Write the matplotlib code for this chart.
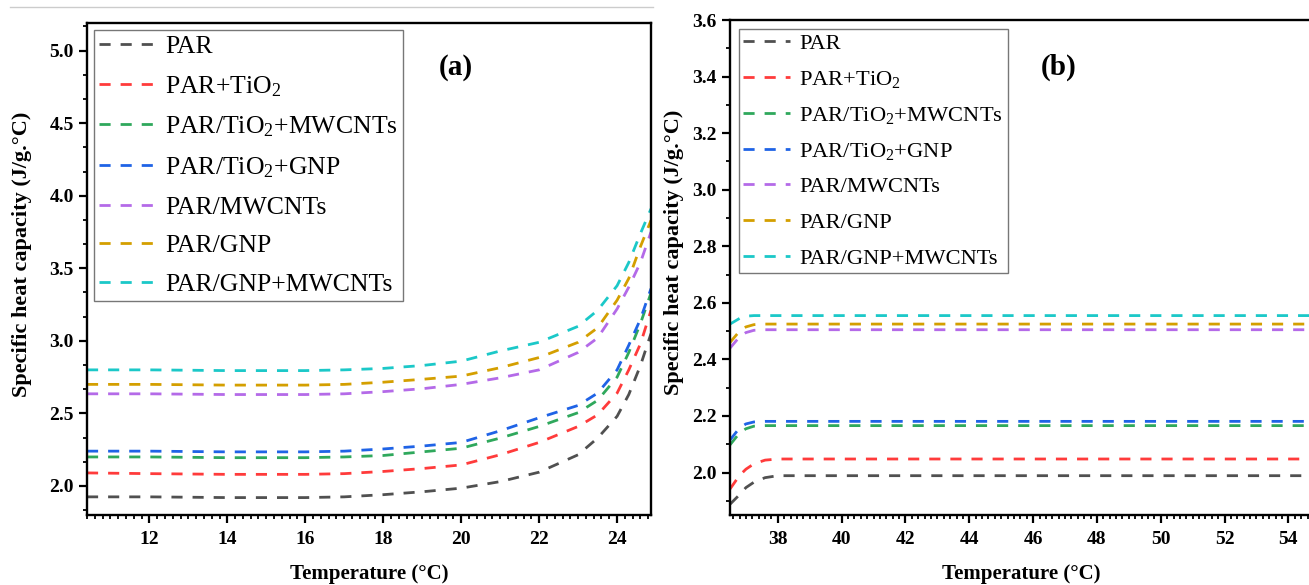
import matplotlib
matplotlib.use("Agg")
import matplotlib.pyplot as plt
import matplotlib.ticker as mticker
from matplotlib.lines import Line2D

plt.rcParams.update({
    "font.family": "Liberation Serif",
    "mathtext.fontset": "custom",
    "mathtext.rm": "Liberation Serif",
    "mathtext.bf": "Liberation Serif:bold",
    "axes.linewidth": 1.7,
})

# ---- data -------------------------------------------------------------
labels = [
    "PAR",
    r"PAR+TiO$\mathregular{_2}$",
    r"PAR/TiO$\mathregular{_2}$+MWCNTs",
    r"PAR/TiO$\mathregular{_2}$+GNP",
    "PAR/MWCNTs",
    "PAR/GNP",
    "PAR/GNP+MWCNTs",
]
colors = ["#505050", "#ff3b3b", "#2fa85c", "#1f63e6", "#b46ae8", "#d49f00", "#1bc8c8"]

# (a) solidification range
temp_a = [10.4, 12, 14, 16, 17, 18, 19, 20, 21, 22, 23, 23.5, 24, 24.3, 24.6, 24.87]
par_a       = [1.925, 1.925, 1.92, 1.92, 1.925, 1.94, 1.96, 1.985, 2.03, 2.095, 2.215, 2.33, 2.48, 2.63, 2.83, 3.05]
par_tio2_a  = [2.09, 2.085, 2.08, 2.08, 2.085, 2.10, 2.12, 2.145, 2.215, 2.30, 2.41, 2.49, 2.64, 2.80, 2.98, 3.21]
tio2_mw_a   = [2.20, 2.20, 2.195, 2.195, 2.20, 2.21, 2.235, 2.26, 2.33, 2.41, 2.505, 2.59, 2.75, 2.92, 3.12, 3.33]
tio2_gnp_a  = [2.24, 2.24, 2.235, 2.235, 2.24, 2.255, 2.275, 2.30, 2.38, 2.47, 2.555, 2.64, 2.80, 2.97, 3.15, 3.36]
mwcnt_a     = [2.635, 2.635, 2.63, 2.63, 2.635, 2.65, 2.67, 2.70, 2.745, 2.80, 2.92, 3.02, 3.22, 3.37, 3.54, 3.75]
gnp_a       = [2.70, 2.70, 2.695, 2.695, 2.70, 2.715, 2.735, 2.757, 2.815, 2.885, 2.99, 3.09, 3.28, 3.43, 3.65, 3.83]
gnp_mw_a    = [2.80, 2.80, 2.795, 2.795, 2.80, 2.81, 2.83, 2.86, 2.93, 2.99, 3.10, 3.21, 3.38, 3.54, 3.74, 3.91]

# (b) melting range
temp_b = [36.5, 36.8, 37.0, 37.25, 37.6, 38.0, 55]
par_b       = [1.888, 1.922, 1.947, 1.966, 1.982, 1.989, 1.989]
par_tio2_b  = [1.942, 1.99, 2.012, 2.031, 2.044, 2.048, 2.048]
tio2_mw_b   = [2.098, 2.140, 2.155, 2.164, 2.166, 2.166, 2.166]
tio2_gnp_b  = [2.115, 2.158, 2.172, 2.179, 2.181, 2.181, 2.181]
mwcnt_b     = [2.44, 2.48, 2.495, 2.503, 2.505, 2.505, 2.505]
gnp_b       = [2.46, 2.50, 2.515, 2.523, 2.525, 2.525, 2.525]
gnp_mw_b    = [2.525, 2.545, 2.553, 2.555, 2.555, 2.555, 2.555]

series_a = [par_a, par_tio2_a, tio2_mw_a, tio2_gnp_a, mwcnt_a, gnp_a, gnp_mw_a]
series_b = [par_b, par_tio2_b, tio2_mw_b, tio2_gnp_b, mwcnt_b, gnp_b, gnp_mw_b]

# ---- figure -----------------------------------------------------------
W, H = 1309, 585
fig = plt.figure(figsize=(W / 100, H / 100), dpi=100)
ax_a = fig.add_axes([87 / W, 1 - 515 / H, 564 / W, 492 / H])
ax_b = fig.add_axes([730 / W, 1 - 515 / H, 582 / W, 495 / H])

# thin grey rule at the very top (page separator)
fig.add_artist(Line2D([10 / W, 653 / W], [1 - 7 / H, 1 - 7 / H], color="#cccccc", lw=1))

dash = (0, (4, 3.6))


def style_axes(ax, minor_x, minor_y):
    ax.xaxis.set_minor_locator(mticker.AutoMinorLocator(minor_x))
    ax.yaxis.set_minor_locator(mticker.AutoMinorLocator(minor_y))
    ax.tick_params(which="major", direction="out", length=5.5, width=1.6,
                   labelsize=14, top=False, right=False)
    ax.tick_params(axis="x", which="major", pad=6)
    ax.tick_params(axis="y", which="major", pad=4)
    ax.tick_params(which="minor", direction="out", length=3.2, width=1.3,
                   top=False, right=False)
    for lab in ax.get_xticklabels() + ax.get_yticklabels():
        lab.set_fontweight("bold")
    ax.set_ylabel("Specific heat capacity (J/g.°C)", fontsize=16, fontweight="bold")
    ax.set_xlabel("Temperature (°C)", fontsize=15, fontweight="bold")
    ax.xaxis.set_label_coords(0.5, -0.1)
    ax.xaxis.label.set_va("top")


for ys, c, lab in zip(series_a, colors, labels):
    ax_a.plot(temp_a, ys, color=c, lw=2, linestyle=dash, label=lab)
ax_a.set_xlim(10.4, 24.87)
ax_a.set_ylim(1.8, 5.19)
ax_a.set_xticks([12, 14, 16, 18, 20, 22, 24])
ax_a.set_yticks([2.0, 2.5, 3.0, 3.5, 4.0, 4.5, 5.0])
ax_a.yaxis.set_major_formatter(mticker.FormatStrFormatter("%.1f"))
style_axes(ax_a, 10, 3)
ax_a.yaxis.set_label_coords(-0.115, 0.53)
ax_a.yaxis.label.set_va("center")
ax_a.text(0.654, 0.91, "(a)", transform=ax_a.transAxes, fontsize=21,
          fontweight="bold", ha="center", va="center")
leg_a = ax_a.legend(loc="upper left", bbox_to_anchor=(0.013, 0.986), borderaxespad=0,
                    fontsize=18.5, handlelength=2.3, handletextpad=0.25, labelspacing=0.62,
                    borderpad=0.2, fancybox=False, frameon=True)
leg_a.get_frame().set_edgecolor("#555555")
leg_a.get_frame().set_linewidth(1.0)

for ys, c, lab in zip(series_b, colors, labels):
    ax_b.plot(temp_b, ys, color=c, lw=2, linestyle=dash, label=lab)
ax_b.set_xlim(36.5, 54.74)
ax_b.set_ylim(1.85, 3.6)
ax_b.set_xticks(list(range(38, 55, 2)))
ax_b.set_yticks([2.0, 2.2, 2.4, 2.6, 2.8, 3.0, 3.2, 3.4, 3.6])
ax_b.yaxis.set_major_formatter(mticker.FormatStrFormatter("%.1f"))
style_axes(ax_b, 10, 2)
ax_b.yaxis.set_label_coords(-0.096, 0.53)
ax_b.yaxis.label.set_va("center")
ax_b.text(0.564, 0.905, "(b)", transform=ax_b.transAxes, fontsize=21,
          fontweight="bold", ha="center", va="center")
leg_b = ax_b.legend(loc="upper left", bbox_to_anchor=(0.015, 0.982), borderaxespad=0,
                    fontsize=16.2, handlelength=2.1, handletextpad=0.4, labelspacing=0.66,
                    borderpad=0.2, fancybox=False, frameon=True)
leg_b.get_frame().set_edgecolor("#555555")
leg_b.get_frame().set_linewidth(1.0)

fig.savefig("out.png", dpi=100)
